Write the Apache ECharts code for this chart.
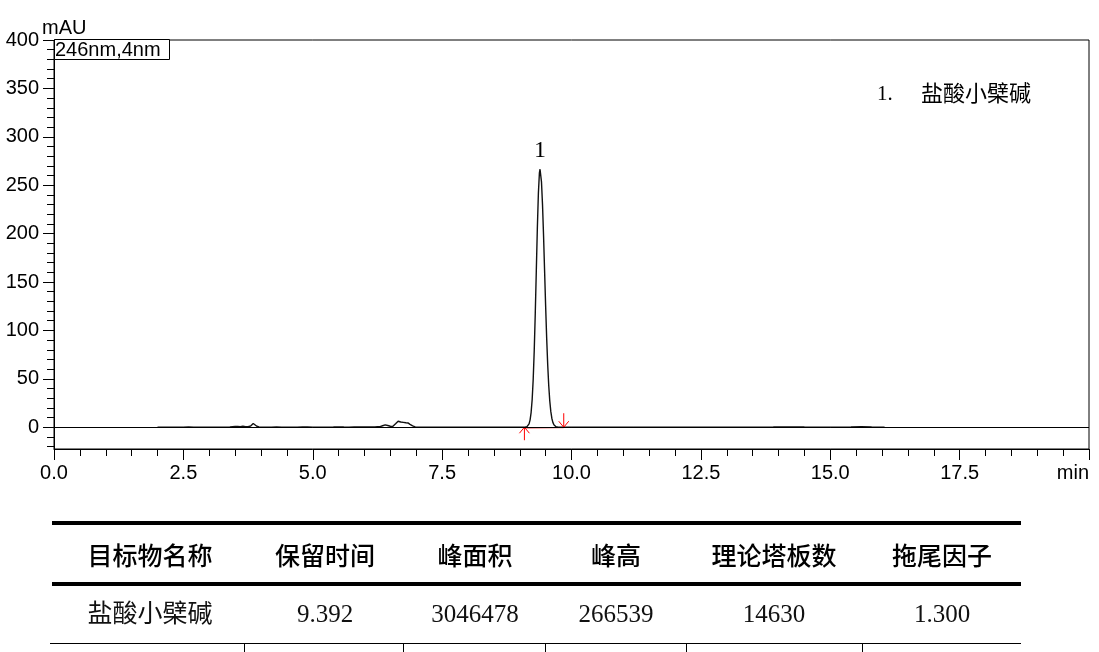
<!DOCTYPE html>
<html>
<head>
<meta charset="utf-8">
<script src="https://cdn.jsdelivr.net/npm/echarts@6.0.0/dist/echarts.min.js"></script>
<style>
  html, body { margin: 0; padding: 0; background: #fff; }
  #chart { width: 1099px; height: 652px; }
</style>
</head>
<body>
<div id="chart"></div>
<script>
// ---------------- data ----------------
// chromatogram trace: [retention time (min), absorbance (mAU)]
var trace = [
  [2.0,0],[2.1,0.1],[2.2,0],[2.3,0.1],[2.4,0],[2.5,0.1],[2.6,0.2],[2.7,0],[2.8,0.1],[2.9,0],
  [3.0,0.1],[3.1,0],[3.2,0.1],[3.3,0.1],[3.4,0.2],[3.45,0.6],[3.5,0.8],[3.55,0.7],[3.6,0.6],
  [3.65,1.0],[3.7,0.5],[3.75,0.6],[3.8,1.2],[3.85,3.8],[3.88,3.0],[3.92,1.0],[3.96,0.2],
  [4.0,0.1],[4.1,0],[4.2,0.1],[4.3,0.2],[4.4,0.1],[4.5,0],[4.6,0.1],[4.7,0.1],[4.8,0.2],[4.9,0.3],
  [5.0,0.1],[5.1,0],[5.2,0.1],[5.3,0.1],[5.4,0.2],[5.5,0.4],[5.6,0.2],[5.7,0.1],[5.8,0.2],[5.9,0.3],
  [6.0,0.3],[6.1,0.4],[6.2,0.3],[6.25,0.5],[6.3,0.6],[6.35,1.5],[6.4,2.4],[6.45,1.8],[6.5,1.0],
  [6.55,0.9],[6.6,3.5],[6.65,6.2],[6.7,5.4],[6.75,5.0],[6.8,4.6],[6.84,4.4],[6.88,3.0],[6.93,1.4],
  [6.98,0.4],[7.05,0.1],[7.2,0],[7.4,0.1],[7.6,0],[7.8,0.1],[8.0,0],[8.2,0.1],[8.4,0],[8.6,0.1],
  [8.8,0],[9.0,0],[9.05,0],[9.10,0.1],[9.14,0.6],[9.18,3.5],[9.20,7.6],[9.22,15.4],[9.24,28.7],
  [9.26,49.6],[9.28,79.4],[9.30,117.8],[9.32,161.6],[9.34,205.3],[9.36,241.4],[9.38,262.8],
  [9.392,266.5],[9.40,265.4],[9.42,253.4],[9.44,229.7],[9.46,197.7],[9.48,161.6],[9.50,125.5],
  [9.52,92.5],[9.54,64.8],[9.56,43.1],[9.58,27.2],[9.60,16.3],[9.62,9.3],[9.64,5.0],[9.66,2.6],
  [9.68,1.3],[9.70,0.6],[9.74,0.1],[9.80,0],[10.0,0],[10.3,0.1],[10.6,0],[10.9,0.1],[11.2,0],
  [11.5,0],[11.8,0.1],[12.1,0],[12.4,0.1],[12.7,0],[13.0,0.1],[13.3,0],[13.6,0.1],[13.9,0.2],
  [14.2,0.4],[14.5,0.2],[14.8,0.1],[15.1,0.1],[15.4,0.2],[15.6,0.5],[15.8,0.2],[16.05,0]
];
// integration window of peak 1: [start, end] (min)
var integrationWindow = [[9.09, 9.85]];
var peakLabels = ['1'];
var compoundNames = ['盐酸小檗碱'];

// axes
var xMin = 0, xMax = 20, xMajorStep = 2.5, xMinorStep = 0.5;
var yMin = -22.5, yMax = 400;
var yMajorTicks = [0, 50, 100, 150, 200, 250, 300, 350, 400];
var yMinorTicks = [-20,-10,0,10,20,30,40,50,60,70,80,90,100,110,120,130,140,150,160,170,180,190,
  200,210,220,230,240,250,260,270,280,290,300,310,320,330,340,350,360,370,380,390,400];
var yUnit = 'mAU';
var xUnit = 'min';
var channelLabel = '246nm,4nm';

// results table
var tableHeaders = ['目标物名称', '保留时间', '峰面积', '峰高', '理论塔板数', '拖尾因子'];
var tableRow = ['盐酸小檗碱', '9.392', '3046478', '266539', '14630', '1.300'];

// ---------------- layout ----------------
var SANS = "'Liberation Sans', Arial, sans-serif";
var SERIF = "'Liberation Serif', 'Noto Sans CJK SC', serif";
var CJK = "'Noto Sans CJK SC', sans-serif";
var colCenters = [150, 325, 475, 616, 774, 942];
var colBounds = [244, 403, 545, 686, 862];

var graphics = [
  { type: 'text', x: 42, y: 28, style: { text: yUnit, font: '20px ' + SANS, fill: '#000', textVerticalAlign: 'middle' } },
  { type: 'rect', shape: { x: 54.5, y: 39.5, width: 115, height: 20 }, style: { fill: '#fff', stroke: '#000', lineWidth: 1 }, z: 10 },
  { type: 'text', x: 55, y: 50, z: 11, style: { text: channelLabel, font: '20px ' + SANS, fill: '#000', textVerticalAlign: 'middle' } },
  { type: 'text', x: 877, y: 94, style: { text: peakLabels[0] + '.', font: '21px ' + SERIF, fill: '#000', textVerticalAlign: 'middle' } },
  { type: 'text', x: 921, y: 93, style: { text: compoundNames[0], font: '22px ' + CJK, fill: '#000', textVerticalAlign: 'middle' } },
  // table rules
  { type: 'line', shape: { x1: 52, y1: 523, x2: 1021, y2: 523 }, style: { stroke: '#000', lineWidth: 4 } },
  { type: 'line', shape: { x1: 52, y1: 584, x2: 1021, y2: 584 }, style: { stroke: '#000', lineWidth: 4 } },
  { type: 'line', shape: { x1: 50, y1: 643.5, x2: 1021, y2: 643.5 }, style: { stroke: '#000', lineWidth: 1.2 } }
];
colBounds.forEach(function (bx) {
  graphics.push({ type: 'line', shape: { x1: bx + 0.5, y1: 643, x2: bx + 0.5, y2: 652 }, style: { stroke: '#000', lineWidth: 1 } });
});
tableHeaders.forEach(function (h, i) {
  graphics.push({ type: 'text', x: colCenters[i], y: 555, style: { text: h, font: '500 25px ' + CJK, fill: '#000', textAlign: 'center', textVerticalAlign: 'middle' } });
});
tableRow.forEach(function (v, i) {
  graphics.push({ type: 'text', x: colCenters[i], y: 615, style: { text: v, font: '25px ' + SERIF, fill: '#111', textAlign: 'center', textVerticalAlign: 'middle' } });
});

var chart = echarts.init(document.getElementById('chart'), null, { renderer: 'canvas' });
chart.setOption({
  animation: false,
  backgroundColor: '#fff',
  grid: { left: 54, right: 10, top: 40, bottom: 203, show: true, borderColor: '#000', borderWidth: 1, containLabel: false },
  xAxis: [
    {
      type: 'value', min: xMin, max: xMax, interval: xMajorStep, position: 'bottom',
      axisLine: { show: true, onZero: false, lineStyle: { color: '#000', width: 1 } },
      axisTick: { show: true, length: 11, lineStyle: { color: '#000' } },
      axisLabel: {
        color: '#000', fontSize: 20, fontFamily: SANS, margin: 14, alignMaxLabel: 'right',
        formatter: function (v) { return v === xMax ? xUnit : v.toFixed(1); }
      },
      splitLine: { show: false }
    },
    {
      type: 'value', min: xMin, max: xMax, interval: xMinorStep, position: 'bottom',
      axisLine: { show: false, onZero: false },
      axisTick: { show: true, length: 7, lineStyle: { color: '#000' } },
      axisLabel: { show: false }, splitLine: { show: false }
    }
  ],
  yAxis: [
    {
      type: 'value', min: yMin, max: yMax, position: 'left',
      axisLine: { show: true, onZero: false, lineStyle: { color: '#000', width: 1 } },
      axisTick: { show: true, length: 11, customValues: yMajorTicks, lineStyle: { color: '#000' } },
      axisLabel: { color: '#000', fontSize: 20, fontFamily: SANS, margin: 15, customValues: yMajorTicks },
      splitLine: { show: false }
    },
    {
      type: 'value', min: yMin, max: yMax, position: 'left',
      axisLine: { show: false, onZero: false },
      axisTick: { show: true, length: 7, customValues: yMinorTicks, lineStyle: { color: '#000' } },
      axisLabel: { show: false }, splitLine: { show: false }
    }
  ],
  series: [
    {
      type: 'line', xAxisIndex: 0, yAxisIndex: 0, data: trace, showSymbol: false, symbol: 'none',
      lineStyle: { color: '#111', width: 1.4 }, z: 3, silent: true,
      markLine: {
        silent: true, symbol: ['none', 'none'], label: { show: false },
        lineStyle: { color: '#000', type: 'solid', width: 1 },
        data: [{ yAxis: 0 }]
      },
      markPoint: {
        symbol: 'circle', symbolSize: 0, silent: true,
        data: [{ type: 'max' }],
        label: { show: true, position: 'top', distance: 7, formatter: peakLabels[0], fontFamily: SERIF, fontSize: 24, color: '#000' }
      }
    },
    {
      type: 'custom', xAxisIndex: 0, yAxisIndex: 0, data: integrationWindow, silent: true, z: 4,
      renderItem: function (params, api) {
        var p1 = api.coord([api.value(0), 0]);
        var p2 = api.coord([api.value(1), 0]);
        var red = '#ff0000';
        return {
          type: 'group',
          children: [
            { type: 'line', shape: { x1: p1[0], y1: p1[1] + 1, x2: p2[0], y2: p2[1] + 0.5 }, style: { stroke: '#f07070', lineWidth: 1 } },
            { type: 'line', shape: { x1: p1[0], y1: p1[1] + 13, x2: p1[0], y2: p1[1] }, style: { stroke: red, lineWidth: 1 } },
            { type: 'polyline', shape: { points: [[p1[0] - 5, p1[1] + 6], [p1[0], p1[1]], [p1[0] + 5, p1[1] + 6]] }, style: { stroke: red, fill: 'none', lineWidth: 1 } },
            { type: 'line', shape: { x1: p2[0], y1: p2[1] - 14, x2: p2[0], y2: p2[1] }, style: { stroke: red, lineWidth: 1 } },
            { type: 'polyline', shape: { points: [[p2[0] - 5, p2[1] - 6], [p2[0], p2[1]], [p2[0] + 5, p2[1] - 6]] }, style: { stroke: red, fill: 'none', lineWidth: 1 } }
          ]
        };
      }
    }
  ],
  graphic: graphics
});
</script>
</body>
</html>
